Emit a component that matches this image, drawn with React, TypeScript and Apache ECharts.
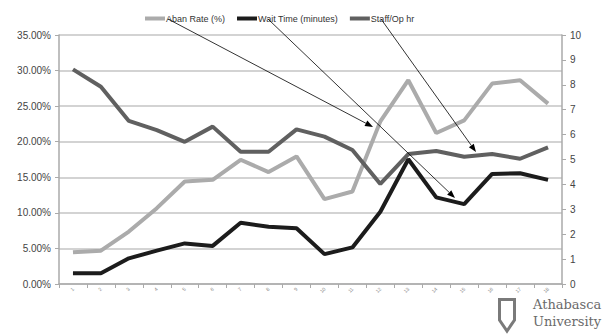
import React, { useEffect, useRef } from "react";
import * as echarts from "echarts";

const categories = ["1","2","3","4","5","6","7","8","9","10","11","12","13","14","15","16","17","18"];
const abanRate = [4.46, 4.69, 7.37, 10.66, 14.41, 14.65, 17.46, 15.73, 17.93, 11.93, 13.0, 22.86, 28.64, 21.22, 23.0, 28.17, 28.64, 25.35];
const waitTime = [0.43, 0.43, 1.03, 1.34, 1.63, 1.53, 2.46, 2.3, 2.24, 1.2, 1.47, 2.9, 5.01, 3.48, 3.21, 4.42, 4.45, 4.18];
const staffOpHr = [8.62, 7.92, 6.55, 6.18, 5.71, 6.32, 5.31, 5.31, 6.21, 5.92, 5.38, 4.02, 5.22, 5.34, 5.11, 5.22, 5.03, 5.49];
const seriesNames = ["Aban Rate (%)", "Wait Time (minutes)", "Staff/Op hr"];
const logoLines = ["Athabasca", "University"];

function arrow(x1: number, y1: number, x2: number, y2: number) {
  const ang = Math.atan2(y2 - y1, x2 - x1);
  const len = 8;
  const w = 3;
  const bx = x2 - len * Math.cos(ang);
  const by = y2 - len * Math.sin(ang);
  const px = -Math.sin(ang) * w;
  const py = Math.cos(ang) * w;
  return [
    {
      type: "line",
      z: 100,
      shape: { x1, y1, x2: bx, y2: by },
      style: { stroke: "#000", lineWidth: 0.8 },
    },
    {
      type: "polygon",
      z: 100,
      shape: { points: [[x2, y2], [bx + px, by + py], [bx - px, by - py]] },
      style: { fill: "#000" },
    },
  ];
}

export default function App() {
  const ref = useRef<HTMLDivElement>(null);
  useEffect(() => {
    document.body.style.margin = "0";
    const chart = echarts.init(ref.current!, null, { renderer: "svg" });
    const font = "'Liberation Sans', Arial, sans-serif";
    const logoFont = "13px 'DejaVu Serif', serif";
    chart.setOption({
      animation: false,
      backgroundColor: "#fff",
      textStyle: { fontFamily: font },
      legend: {
        left: 140,
        top: 9,
        itemWidth: 20,
        itemHeight: 4,
        itemGap: 12,
        icon: "rect",
        data: seriesNames,
        textStyle: { fontSize: 9, color: "#333", fontFamily: font, padding: [0, 0, 0, -4] },
      },
      grid: { left: 59, right: 54, top: 35, bottom: 51, containLabel: false },
      xAxis: {
        type: "category",
        data: categories,
        boundaryGap: true,
        axisLine: { lineStyle: { color: "#aaa", width: 1.5 } },
        axisTick: { show: true, length: 4, lineStyle: { color: "#aaa" } },
        axisLabel: { fontSize: 5, color: "#888", rotate: 45, margin: 4 },
        splitLine: { show: false },
      },
      yAxis: [
        {
          type: "value",
          min: 0,
          max: 35,
          interval: 5,
          axisLine: { show: true, lineStyle: { color: "#aaa", width: 1.5 } },
          axisTick: { show: true, length: 4, lineStyle: { color: "#aaa" } },
          axisLabel: {
            fontSize: 10,
            color: "#444",
            margin: 8,
            formatter: (v: number) => v.toFixed(2) + "%",
          },
          splitLine: { show: true, lineStyle: { color: "#c4c4c4", width: 1.5 } },
        },
        {
          type: "value",
          min: 0,
          max: 10,
          interval: 1,
          position: "right",
          axisLine: { show: true, lineStyle: { color: "#aaa", width: 1.5 } },
          axisTick: { show: true, length: 4, lineStyle: { color: "#aaa" } },
          axisLabel: { fontSize: 10, color: "#444", margin: 8 },
          splitLine: { show: false },
        },
      ],
      series: [
        {
          name: seriesNames[0],
          type: "line",
          yAxisIndex: 0,
          data: abanRate,
          symbol: "none",
          lineStyle: { color: "#ababab", width: 4 },
          itemStyle: { color: "#ababab" },
          z: 3,
        },
        {
          name: seriesNames[1],
          type: "line",
          yAxisIndex: 1,
          data: waitTime,
          symbol: "none",
          lineStyle: { color: "#1c1c1c", width: 4 },
          itemStyle: { color: "#1c1c1c" },
          z: 4,
        },
        {
          name: seriesNames[2],
          type: "line",
          yAxisIndex: 1,
          data: staffOpHr,
          symbol: "none",
          lineStyle: { color: "#606060", width: 4 },
          itemStyle: { color: "#606060" },
          z: 5,
        },
      ],
      graphic: [
        ...arrow(168, 19, 373, 127),
        ...arrow(268, 19, 455, 198),
        ...arrow(381, 19, 476, 152),
        {
          type: "polygon",
          shape: { points: [[499.5, 299.5], [514.5, 299.5], [514.5, 320], [507, 331], [499.5, 320]] },
          style: { fill: "#fff", stroke: "#7a7a7a", lineWidth: 3 },
        },
        {
          type: "text",
          x: 533,
          y: 298,
          style: { text: logoLines[0], font: logoFont, fill: "#6a6a6a" },
        },
        {
          type: "text",
          x: 533,
          y: 315,
          style: { text: logoLines[1], font: logoFont, fill: "#6a6a6a" },
        },
      ],
    });
    return () => chart.dispose();
  }, []);
  return <div ref={ref} style={{ width: 616, height: 335, position: "fixed", left: 0, top: 0 }} />;
}
